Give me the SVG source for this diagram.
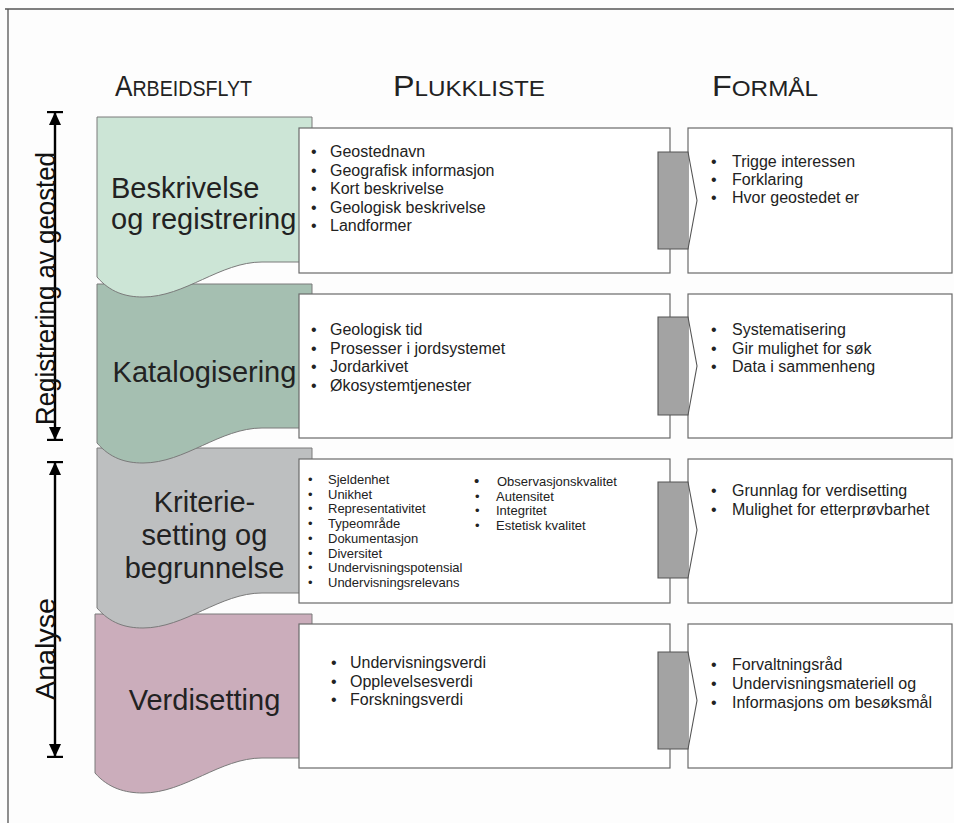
<svg xmlns="http://www.w3.org/2000/svg" width="954" height="823" viewBox="0 0 954 823">
  <style>
    .hdr { font-family: "Liberation Sans", Arial, sans-serif; fill: #222; }
    .stage { font-family: "Liberation Sans", Arial, sans-serif; font-size: 29px; fill: #222; }
    .side { font-family: "Liberation Sans", Arial, sans-serif; font-size: 28px; fill: #111; }
    .item { font-family: "Liberation Sans", Arial, sans-serif; font-size: 16px; fill: #222; }
    .small { font-family: "Liberation Sans", Arial, sans-serif; font-size: 13px; fill: #222; }
    .box { fill: #fff; stroke: #6a6a6a; stroke-width: 1.2; }
    .wave { stroke: #7a7a7a; stroke-width: 1; }
    .pent-fill { fill: #a3a3a3; stroke: none; }
    .pent-line { fill: none; stroke: #555; stroke-width: 1.1; }
    .span { stroke: #000; stroke-width: 2.4; fill: none; marker-start: url(#stop); marker-end: url(#stop); }
  </style>
  <defs>
    <marker id="stop" viewBox="0 -8 14 16" refX="13" refY="0" markerWidth="14" markerHeight="16" markerUnits="userSpaceOnUse" orient="auto-start-reverse">
      <path d="M0,-6 L13,0 L0,6 Z" fill="#000"/>
      <path d="M13,-8 V8" stroke="#000" stroke-width="2.4"/>
    </marker>
  </defs>

  <rect width="954" height="823" fill="#fdfdfd"/>
  <!-- frame -->
  <path d="M5,9 H954 M8,9 V823" stroke="#555" stroke-width="1.3" fill="none"/>

  <!-- column headings (small caps, condensed) -->
  <g id="headings">
    <text class="hdr" x="115" y="96" textLength="137" lengthAdjust="spacingAndGlyphs"><tspan font-size="30">A</tspan><tspan font-size="22.5">RBEIDSFLYT</tspan></text>
    <text class="hdr" x="393" y="96" textLength="152" lengthAdjust="spacingAndGlyphs"><tspan font-size="30">P</tspan><tspan font-size="22.5">LUKKLISTE</tspan></text>
    <text class="hdr" x="712" y="96" textLength="106" lengthAdjust="spacingAndGlyphs"><tspan font-size="30">F</tspan><tspan font-size="22.5">ORMÅL</tspan></text>
  </g>

  <!-- phase spans on the left -->
  <g id="phase-registrering">
    <path class="span" d="M55,112 V440"/>
    <text class="side" transform="translate(55,288.5) rotate(-90)" text-anchor="middle" textLength="273" lengthAdjust="spacingAndGlyphs">Registrering av geosted</text>
  </g>
  <g id="phase-analyse">
    <path class="span" d="M55,462 V757"/>
    <text class="side" transform="translate(55,649) rotate(-90)" text-anchor="middle" textLength="102" lengthAdjust="spacingAndGlyphs">Analyse</text>
  </g>

  <!-- workflow stages, drawn bottom-up so each wave overlaps the next -->
  <g id="stage-verdisetting">
    <path class="wave" fill="#cbadbb" d="M95,614 H312 V758 H262 C220,758 185,793 143,793 C125,793 108,788 95,773 Z"/>
    <text class="stage" x="204.5" y="710" text-anchor="middle">Verdisetting</text>
  </g>
  <g id="stage-kriterier">
    <path class="wave" fill="#bdbfc0" d="M97,448 H312 V593 H262 C220,593 185,628 143,628 C125,628 110,623 97,608 Z"/>
    <text class="stage" text-anchor="middle"><tspan x="204.5" y="512">Kriterie-</tspan><tspan x="204.5" y="545">setting og</tspan><tspan x="204.5" y="578">begrunnelse</tspan></text>
  </g>
  <g id="stage-katalogisering">
    <path class="wave" fill="#a5bfb1" d="M97,284 H312 V428 H262 C220,428 185,463 143,463 C125,463 110,458 97,443 Z"/>
    <text class="stage" x="204.5" y="382" text-anchor="middle">Katalogisering</text>
  </g>
  <g id="stage-beskrivelse">
    <path class="wave" fill="#cce5d6" d="M97,117 H312 V262 H262 C220,262 185,297 143,297 C125,297 110,292 97,277 Z"/>
    <text class="stage"><tspan x="111" y="198">Beskrivelse</tspan><tspan x="111" y="229">og registrering</tspan></text>
  </g>

  <!-- pick lists -->
  <g id="plukk-1">
    <rect class="box" x="299" y="128" width="371" height="145"/>
    <text class="item"><tspan x="311" y="157">•</tspan><tspan x="311" y="175.5">•</tspan><tspan x="311" y="194">•</tspan><tspan x="311" y="212.5">•</tspan><tspan x="311" y="231">•</tspan></text>
    <text class="item"><tspan x="330" y="157">Geostednavn</tspan><tspan x="330" y="175.5">Geografisk informasjon</tspan><tspan x="330" y="194">Kort beskrivelse</tspan><tspan x="330" y="212.5">Geologisk beskrivelse</tspan><tspan x="330" y="231">Landformer</tspan></text>
  </g>
  <g id="plukk-2">
    <rect class="box" x="299" y="294" width="371" height="144"/>
    <text class="item"><tspan x="311" y="335">•</tspan><tspan x="311" y="353.5">•</tspan><tspan x="311" y="372">•</tspan><tspan x="311" y="390.5">•</tspan></text>
    <text class="item"><tspan x="330" y="335">Geologisk tid</tspan><tspan x="330" y="353.5">Prosesser i jordsystemet</tspan><tspan x="330" y="372">Jordarkivet</tspan><tspan x="330" y="390.5">Økosystemtjenester</tspan></text>
  </g>
  <g id="plukk-3">
    <rect class="box" x="299" y="459" width="371" height="144"/>
    <text class="small"><tspan x="308" y="484">•</tspan><tspan x="308" y="498.7">•</tspan><tspan x="308" y="513.4">•</tspan><tspan x="308" y="528.1">•</tspan><tspan x="308" y="542.8">•</tspan><tspan x="308" y="557.5">•</tspan><tspan x="308" y="572.2">•</tspan><tspan x="308" y="586.9">•</tspan></text>
    <text class="small"><tspan x="328" y="484">Sjeldenhet</tspan><tspan x="328" y="498.7">Unikhet</tspan><tspan x="328" y="513.4">Representativitet</tspan><tspan x="328" y="528.1">Typeområde</tspan><tspan x="328" y="542.8">Dokumentasjon</tspan><tspan x="328" y="557.5">Diversitet</tspan><tspan x="328" y="572.2">Undervisningspotensial</tspan><tspan x="328" y="586.9">Undervisningsrelevans</tspan></text>
    <text class="small"><tspan x="474" y="486" font-size="15">•</tspan><tspan x="475" y="500.5">•</tspan><tspan x="475" y="515">•</tspan><tspan x="475" y="529.5">•</tspan></text>
    <text class="small"><tspan x="497" y="486">Observasjonskvalitet</tspan><tspan x="496" y="500.5">Autensitet</tspan><tspan x="496" y="515">Integritet</tspan><tspan x="496" y="529.5">Estetisk kvalitet</tspan></text>
  </g>
  <g id="plukk-4">
    <rect class="box" x="299" y="624" width="371" height="144"/>
    <text class="item"><tspan x="331" y="668">•</tspan><tspan x="331" y="686.5">•</tspan><tspan x="331" y="705">•</tspan></text>
    <text class="item"><tspan x="350" y="668">Undervisningsverdi</tspan><tspan x="350" y="686.5">Opplevelsesverdi</tspan><tspan x="350" y="705">Forskningsverdi</tspan></text>
  </g>

  <!-- purposes -->
  <g id="formaal-1">
    <rect class="box" x="688" y="128" width="264" height="145"/>
    <text class="item"><tspan x="711" y="167">•</tspan><tspan x="711" y="185">•</tspan><tspan x="711" y="203">•</tspan></text>
    <text class="item"><tspan x="732" y="167">Trigge interessen</tspan><tspan x="732" y="185">Forklaring</tspan><tspan x="732" y="203">Hvor geostedet er</tspan></text>
  </g>
  <g id="formaal-2">
    <rect class="box" x="688" y="294" width="264" height="144"/>
    <text class="item"><tspan x="711" y="335">•</tspan><tspan x="711" y="353.5">•</tspan><tspan x="711" y="372">•</tspan></text>
    <text class="item"><tspan x="732" y="335">Systematisering</tspan><tspan x="732" y="353.5">Gir mulighet for søk</tspan><tspan x="732" y="372">Data i sammenheng</tspan></text>
  </g>
  <g id="formaal-3">
    <rect class="box" x="688" y="459" width="264" height="144"/>
    <text class="item"><tspan x="711" y="496">•</tspan><tspan x="711" y="514.5">•</tspan></text>
    <text class="item"><tspan x="732" y="496">Grunnlag for verdisetting</tspan><tspan x="732" y="514.5">Mulighet for etterprøvbarhet</tspan></text>
  </g>
  <g id="formaal-4">
    <rect class="box" x="688" y="624" width="264" height="144"/>
    <text class="item"><tspan x="711" y="670">•</tspan><tspan x="711" y="689">•</tspan><tspan x="711" y="708">•</tspan></text>
    <text class="item"><tspan x="732" y="670">Forvaltningsråd</tspan><tspan x="732" y="689">Undervisningsmateriell og</tspan><tspan x="732" y="708">Informasjons om besøksmål</tspan></text>
  </g>

  <!-- connectors: chevrons from pick list to purpose -->
  <g id="connectors">
    <path class="pent-fill" d="M658,152 H688 V249 H658 Z"/>
    <path class="pent-line" d="M658,152 H688 L697,200.5 L688,249 H658 Z"/>
    <path class="pent-fill" d="M658,317 H688 V415 H658 Z"/>
    <path class="pent-line" d="M658,317 H688 L697,366 L688,415 H658 Z"/>
    <path class="pent-fill" d="M658,482 H688 V578 H658 Z"/>
    <path class="pent-line" d="M658,482 H688 L697,530 L688,578 H658 Z"/>
    <path class="pent-fill" d="M658,652 H688 V749 H658 Z"/>
    <path class="pent-line" d="M658,652 H688 L697,700.5 L688,749 H658 Z"/>
  </g>
</svg>
